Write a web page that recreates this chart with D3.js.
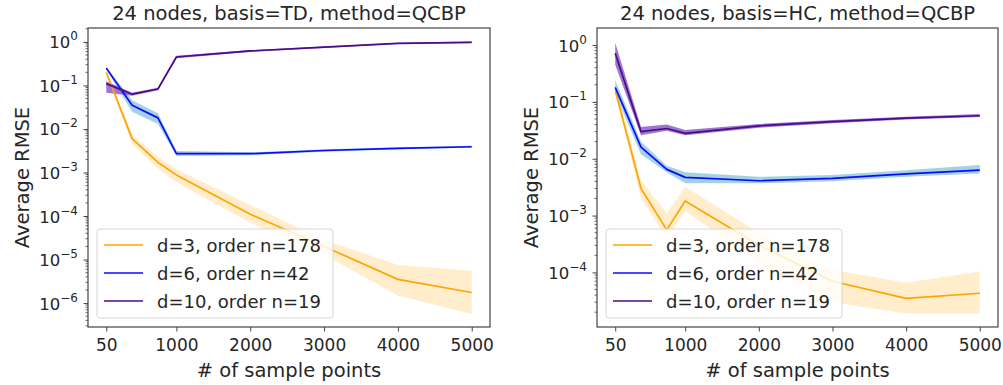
<!DOCTYPE html>
<html>
<head>
<meta charset="utf-8">
<script src="https://cdn.jsdelivr.net/npm/d3@7"></script>
<style>
	body { margin: 0; background: #fff; }
	svg text { font-family: "DejaVu Sans", sans-serif; fill: #262626; }
</style>
</head>
<body>
<div class="c-svg"></div>
<script>
//DATA
//-------------------------------------------------------------------------

const samplePoints = [50, 400, 750, 1000, 2000, 3000, 4000, 5000];
const xTicks = [50, 1000, 2000, 3000, 4000, 5000];
const seriesNames = ["d=3, order n=178", "d=6, order n=42", "d=10, order n=19"];

// left panel : basis TD
const tdTitle = "24 nodes, basis=TD, method=QCBP";
const tdD3 = [0.2, 0.006, 0.0017, 0.00088, 1.1e-4, 2.0e-5, 3.5e-6, 1.75e-6];
const tdD3Low = [0.18, 0.0045, 0.0012, 0.0006, 7e-5, 1.3e-5, 1.5e-6, 5.6e-7];
const tdD3High = [0.22, 0.0075, 0.0023, 0.0012, 1.8e-4, 2.8e-5, 7.5e-6, 5.5e-6];
const tdD6 = [0.25, 0.035, 0.018, 0.0027, 0.0027, 0.0032, 0.0036, 0.0039];
const tdD6Low = [0.23, 0.025, 0.013, 0.0024, 0.0025, 0.003, 0.0034, 0.0037];
const tdD6High = [0.27, 0.046, 0.023, 0.0031, 0.0029, 0.0034, 0.0038, 0.0041];
const tdD10 = [0.11, 0.063, 0.083, 0.45, 0.62, 0.76, 0.93, 0.98];
const tdD10Low = [0.068, 0.058, 0.078, 0.42, 0.59, 0.73, 0.9, 0.95];
const tdD10High = [0.125, 0.068, 0.088, 0.48, 0.65, 0.79, 0.96, 1.02];

// right panel : basis HC
const hcTitle = "24 nodes, basis=HC, method=QCBP";
const hcD3 = [0.16, 0.003, 5.6e-4, 0.0018, 3e-4, 7e-5, 3.5e-5, 4.3e-5];
const hcD3Low = [0.14, 0.002, 4e-4, 1.2e-3, 1.5e-4, 3e-5, 1.9e-5, 1.9e-5];
const hcD3High = [0.2, 0.0042, 1.1e-3, 3.2e-3, 5e-4, 1.1e-4, 6.6e-5, 1.04e-4];
const hcD6 = [0.18, 0.016, 0.0065, 0.0047, 0.0041, 0.0045, 0.0054, 0.0063];
const hcD6Low = [0.14, 0.012, 0.0058, 0.0037, 0.0037, 0.004, 0.0048, 0.0055];
const hcD6High = [0.24, 0.02, 0.0075, 0.0058, 0.0048, 0.0052, 0.0063, 0.0078];
const hcD10 = [0.72, 0.03, 0.034, 0.028, 0.038, 0.045, 0.052, 0.057];
const hcD10Low = [0.45, 0.026, 0.031, 0.026, 0.035, 0.042, 0.049, 0.054];
const hcD10High = [1.1, 0.036, 0.04, 0.032, 0.041, 0.048, 0.055, 0.061];

//INITIALISATION
//-------------------------------------------------------------------------

const opts = {
	width: 1003,
	height: 385,
	top: 28,
	bottom: 327
};

const colors = {
	line: ["#ffa500", "#0a0aff", "#4b0b8a"],
	band: ["#ffa500", "#9fd0e2", "#8453c8"],
	bandOpacity: [0.2, 0.95, 0.8]
};

const panels = [
	{
		title: tdTitle, left: 88, right: 490, yDomain: [Math.pow(10, -6.55), Math.pow(10, 0.32)],
		yTicks: [1e0, 1e-1, 1e-2, 1e-3, 1e-4, 1e-5, 1e-6],
		series: [[tdD3, tdD3Low, tdD3High], [tdD6, tdD6Low, tdD6High], [tdD10, tdD10Low, tdD10High]],
		legend: { x: 97, y: 229 }
	},
	{
		title: hcTitle, left: 597, right: 998, yDomain: [Math.pow(10, -4.96), Math.pow(10, 0.3)],
		yTicks: [1e0, 1e-1, 1e-2, 1e-3, 1e-4],
		series: [[hcD3, hcD3Low, hcD3High], [hcD6, hcD6Low, hcD6High], [hcD10, hcD10Low, hcD10High]],
		legend: { x: 606, y: 229 }
	}
];

const svg = d3.select(".c-svg")
	.append("svg")
	.attr("width", opts.width)
	.attr("height", opts.height);

panels.forEach((p, i) => {

	//SCALES
	//-------------------------------------------------------------------------
	const margin = (5000 - 50) * 0.05;
	const x = d3.scaleLinear()
		.domain([50 - margin, 5000 + margin])
		.range([p.left, p.right]);

	const y = d3.scaleLog()
		.domain(p.yDomain)
		.range([opts.bottom, opts.top]);

	const g = svg.append("g").attr("class", "panel");

	g.append("clipPath")
		.attr("id", "clip" + i)
		.append("rect")
		.attr("x", p.left)
		.attr("y", opts.top)
		.attr("width", p.right - p.left)
		.attr("height", opts.bottom - opts.top);

	//BANDS & LINES
	//-------------------------------------------------------------------------
	const area = d3.area()
		.x((d, k) => x(samplePoints[k]))
		.y0(d => y(d[0]))
		.y1(d => y(d[1]));

	const line = d3.line()
		.x((d, k) => x(samplePoints[k]))
		.y(d => y(d));

	const plot = g.append("g").attr("clip-path", `url(#clip${i})`);

	p.series.forEach((s, k) => {
		plot.append("path")
			.attr("d", area(s[1].map((v, j) => [v, s[2][j]])))
			.attr("fill", colors.band[k])
			.attr("fill-opacity", colors.bandOpacity[k]);
	});

	p.series.forEach((s, k) => {
		plot.append("path")
			.attr("d", line(s[0]))
			.attr("fill", "none")
			.attr("stroke", colors.line[k])
			.attr("stroke-width", 1.7)
			.attr("stroke-linejoin", "round");
	});

	//AXES
	//-------------------------------------------------------------------------
	const xAxis = d3.axisBottom(x)
		.tickValues(xTicks)
		.tickSize(4.5)
		.tickPadding(7)
		.tickFormat(d3.format("d"));

	const xg = g.append("g")
		.attr("transform", `translate(0 ${opts.bottom})`)
		.call(xAxis);
	xg.select(".domain").remove();
	xg.selectAll("line").attr("stroke", "#444").attr("stroke-width", 1);
	xg.selectAll("text")
		.style("font-size", "17px")
		.attr("fill", "#262626")
		.attr("dy", "0.75em");

	// minor ticks on log axis
	const [lo, hi] = p.yDomain;
	const minor = [];
	for (let e = Math.floor(Math.log10(lo)); e <= Math.ceil(Math.log10(hi)); e++) {
		for (let m = 2; m <= 9; m++) {
			const v = m * Math.pow(10, e);
			if (v >= lo && v <= hi) minor.push(v);
		}
	}

	g.append("g")
		.selectAll("line")
		.data(minor)
		.join("line")
		.attr("x1", p.left - 2.5)
		.attr("x2", p.left)
		.attr("y1", d => y(d))
		.attr("y2", d => y(d))
		.attr("stroke", "#444")
		.attr("stroke-width", 0.8);

	const yAxis = d3.axisLeft(y)
		.tickValues(p.yTicks)
		.tickSize(4.5)
		.tickFormat("");

	const yg = g.append("g")
		.attr("transform", `translate(${p.left} 0)`)
		.call(yAxis);
	yg.select(".domain").remove();
	yg.selectAll("line").attr("stroke", "#444").attr("stroke-width", 1);

	// tick labels 10^e
	const labels = g.append("g")
		.selectAll("text")
		.data(p.yTicks)
		.join("text")
		.attr("x", p.left - 10)
		.attr("y", d => y(d) + 6.5)
		.attr("text-anchor", "end")
		.style("font-size", "16.5px");
	labels.append("tspan").text("10");
	labels.append("tspan")
		.attr("dy", -8)
		.style("font-size", "12px")
		.text(d => String(Math.round(Math.log10(d))).replace("-", "\u2212"));

	// frame
	g.append("rect")
		.attr("x", p.left)
		.attr("y", opts.top)
		.attr("width", p.right - p.left)
		.attr("height", opts.bottom - opts.top)
		.attr("fill", "none")
		.attr("stroke", "#444")
		.attr("stroke-width", 1.2);

	//TEXTS
	//-------------------------------------------------------------------------
	const cx = (p.left + p.right) / 2;

	g.append("text")
		.attr("x", cx)
		.attr("y", 20)
		.attr("text-anchor", "middle")
		.style("font-size", "19.5px")
		.text(p.title);

	g.append("text")
		.attr("x", cx)
		.attr("y", 377)
		.attr("text-anchor", "middle")
		.style("font-size", "19.5px")
		.text("# of sample points");

	g.append("text")
		.attr("transform", `translate(${p.left - 66} ${(opts.top + opts.bottom) / 2}) rotate(-90)`)
		.attr("dy", "0.35em")
		.attr("text-anchor", "middle")
		.style("font-size", "19.5px")
		.text("Average RMSE");

	//LEGEND
	//-------------------------------------------------------------------------
	const legend = g.append("g")
		.attr("transform", `translate(${p.legend.x} ${p.legend.y})`);

	legend.append("rect")
		.attr("width", 236)
		.attr("height", 89)
		.attr("rx", 3)
		.attr("fill", "#fff")
		.attr("fill-opacity", 0.8)
		.attr("stroke", "#d6d6d6")
		.attr("stroke-width", 1);

	const items = legend.selectAll(".item")
		.data(seriesNames)
		.join("g")
		.attr("class", "item")
		.attr("transform", (d, k) => `translate(0 ${16 + k * 28})`);

	items.append("line")
		.attr("x1", 7)
		.attr("x2", 46)
		.attr("stroke", (d, k) => colors.line[k])
		.attr("stroke-width", 1.7);

	items.append("text")
		.attr("x", 60)
		.attr("y", 6.5)
		.style("font-size", "18px")
		.text(d => d);
});
</script>
</body>
</html>
